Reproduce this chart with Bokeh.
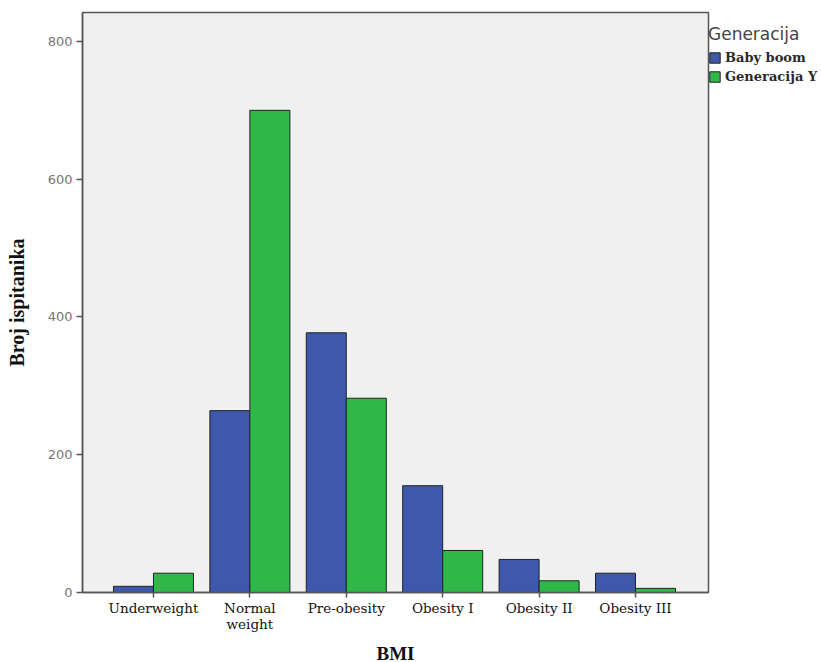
from bokeh.plotting import figure
from bokeh.models import ColumnDataSource, FixedTicker, Legend, LegendItem, Range1d
from bokeh.transform import dodge
from bokeh.embed import file_html
from bokeh.resources import INLINE

categories = ["Underweight", "Normal\nweight", "Pre-obesity", "Obesity I", "Obesity II", "Obesity III"]
baby_boom = [9, 264, 377, 155, 48, 28]
generacija_y = [28, 700, 282, 61, 17, 6]
y_ticks = [0, 200, 400, 600, 800]

xpos = list(range(len(categories)))
src = ColumnDataSource(dict(x=xpos, bb=baby_boom, gy=generacija_y))

p = figure(frame_width=626, frame_height=580, output_backend="svg", toolbar_location=None,
           x_range=Range1d(-0.736, 5.757), y_range=Range1d(0, 842),
           min_border_left=82, min_border_top=12, min_border_bottom=70, min_border_right=100)
p.background_fill_color = "#f0f0f0"
p.border_fill_color = "white"
p.outline_line_color = "#555555"
p.outline_line_width = 1.5
p.grid.visible = False

bw = 0.415
r1 = p.vbar(x=dodge("x", -bw / 2, range=p.x_range), top="bb", width=bw, source=src,
            fill_color="#3E58AC", line_color="#222222", line_width=1)
r2 = p.vbar(x=dodge("x", bw / 2, range=p.x_range), top="gy", width=bw, source=src,
            fill_color="#2EB848", line_color="#222222", line_width=1)

# axes
p.xaxis.ticker = FixedTicker(ticks=xpos)
p.xaxis.major_label_overrides = {i: c for i, c in enumerate(categories)}
p.xaxis.major_label_text_font = "DejaVu Serif"
p.xaxis.major_label_text_font_size = "13.5px"
p.xaxis.major_label_text_line_height = 1.0
p.xaxis.major_label_text_color = "#111111"
p.xaxis.major_label_standoff = 2
p.xaxis.axis_label = "BMI"
p.xaxis.axis_label_text_font = "Liberation Serif"
p.xaxis.axis_label_text_font_style = "bold"
p.xaxis.axis_label_text_font_size = "19px"
p.xaxis.axis_label_text_color = "#111111"
p.xaxis.axis_label_standoff = 8

p.yaxis.ticker = FixedTicker(ticks=y_ticks)
p.yaxis.major_label_text_font = "DejaVu Sans"
p.yaxis.major_label_text_font_size = "13px"
p.yaxis.major_label_text_color = "#777777"
p.yaxis.major_label_standoff = 4
p.yaxis.axis_label = "Broj ispitanika"
p.yaxis.axis_label_text_font = "Liberation Serif"
p.yaxis.axis_label_text_font_style = "bold"
p.yaxis.axis_label_text_font_size = "20px"
p.yaxis.axis_label_text_color = "#111111"
p.yaxis.axis_label_standoff = 17

for ax in (p.xaxis, p.yaxis):
    ax.axis_line_color = "#555555"
    ax.axis_line_width = 1.5
    ax.major_tick_line_color = "#555555"
    ax.major_tick_line_width = 1.5
    ax.major_tick_in = 0
    ax.minor_tick_line_color = None
p.xaxis.major_tick_out = 5
p.yaxis.major_tick_out = 6

legend = Legend(items=[LegendItem(label="Baby boom", renderers=[r1]),
                       LegendItem(label="Generacija Y", renderers=[r2])],
                title="Generacija", location=(0, 508))
legend.title_text_font = "DejaVu Sans"
legend.title_text_font_size = "17px"
legend.title_text_font_style = "normal"
legend.title_text_color = "#444444"
legend.title_standoff = 6
legend.label_text_font = "DejaVu Serif"
legend.label_text_font_size = "13px"
legend.label_text_font_style = "bold"
legend.label_text_color = "#2a2a2a"
legend.glyph_width = 13
legend.glyph_height = 13
legend.label_height = 13
legend.label_standoff = 4
legend.spacing = 4
legend.padding = 3
legend.margin = 0
legend.border_line_color = None
legend.background_fill_alpha = 0
p.add_layout(legend, "right")

open("out.html", "w").write(file_html(p, INLINE))
